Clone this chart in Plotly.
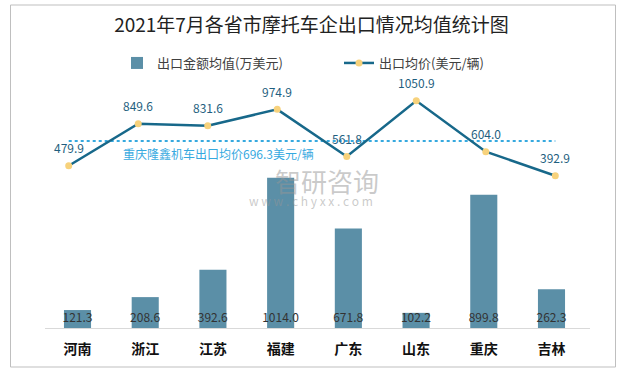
import plotly.graph_objects as go

categories = ["河南", "浙江", "江苏", "福建", "广东", "山东", "重庆", "吉林"]
export_amount = [121.3, 208.6, 392.6, 1014.0, 671.8, 102.2, 899.8, 262.3]
avg_price = [479.9, 849.6, 831.6, 974.9, 561.8, 1050.9, 604.0, 392.9]
loncin_avg = 696.3
loncin_label = "重庆隆鑫机车出口均价696.3美元/辆"

W, H = 623, 373
L, R, T, B = 45, 33, 80, 45
pw, ph = W - L - R, H - T - B

def px_x(px):
    return (px - L) / pw

def px_y(py):
    return (H - B - py) / ph

FONT = "Noto Sans CJK SC"

fig = go.Figure()

fig.add_trace(go.Bar(
    x=categories, y=export_amount, name="出口金额均值(万美元)",
    marker=dict(color="#5b8fa7", line=dict(width=0)),
    width=0.4,
    text=[f"{v:.1f}" for v in export_amount],
    textposition="inside", insidetextanchor="start", textangle=0,
    constraintext="none",
    insidetextfont=dict(color="#333333", size=12, family=FONT),
    cliponaxis=False,
    xaxis="x", yaxis="y",
))

fig.add_trace(go.Scatter(
    x=categories, y=[loncin_avg] * len(categories), mode="lines",
    line=dict(color="#36a9df", width=2, dash="dot"),
    showlegend=False, hoverinfo="skip",
    xaxis="x2", yaxis="y2",
))

fig.add_trace(go.Scatter(
    x=categories, y=avg_price, name="出口均价(美元/辆)",
    mode="lines+markers",
    line=dict(color="#17688a", width=2.5),
    marker=dict(color="#f7d27c", size=7),
    cliponaxis=False,
    xaxis="x2", yaxis="y2",
))

annotations = []
for c, v in zip(categories, avg_price):
    annotations.append(dict(
        x=c, y=v, xref="x2", yref="y2", text=f"{v:.1f}", showarrow=False,
        xanchor="center", yanchor="middle",
        yshift=18, font=dict(size=12, color="#1f5f80", family=FONT),
    ))

annotations.append(dict(
    x=px_x(218), y=loncin_avg, xref="paper", yref="y2", text=loncin_label,
    showarrow=False, xanchor="center", yanchor="middle",
    yshift=-12, font=dict(size=12, color="#36a9df", family=FONT),
))

# watermark
annotations.append(dict(
    x=px_x(327), y=px_y(180), xref="paper", yref="paper", text="智研咨询",
    showarrow=False, xanchor="center", yanchor="middle",
    font=dict(size=26, color="rgba(150,150,150,0.5)", family=FONT),
))
annotations.append(dict(
    x=px_x(311), y=px_y(200), xref="paper", yref="paper",
    text="w w w . c h y x x . c o m",
    showarrow=False, xanchor="center", yanchor="middle",
    font=dict(size=12, color="rgba(150,150,150,0.5)", family=FONT),
))

shapes = [dict(
    type="rect", xref="paper", yref="paper",
    x0=px_x(10.5), x1=px_x(615.5), y0=px_y(367), y1=px_y(5),
    line=dict(color="#bfbfbf", width=1), fillcolor="rgba(0,0,0,0)", layer="below",
)]

bar_px = 67.7
fig.update_layout(
    width=W, height=H,
    margin=dict(l=L, r=R, t=T, b=B, autoexpand=False),
    paper_bgcolor="white", plot_bgcolor="white",
    title=dict(text="2021年7月各省市摩托车企出口情况均值统计图",
               x=0.5, xanchor="center", y=1 - 25 / H, yanchor="middle", yref="container",
               font=dict(size=19, color="#222222", family=FONT)),
    font=dict(family=FONT, color="#404040"),
    barmode="group",
    showlegend=True,
    legend=dict(orientation="h", x=px_x(117), xanchor="left", y=px_y(63), yanchor="middle",
                font=dict(size=13, color="#404040", family=FONT),
                entrywidth=177, entrywidthmode="pixels",
                bgcolor="rgba(0,0,0,0)"),
    xaxis=dict(
        type="category", categoryorder="array", categoryarray=categories,
        range=[-(77.5 - L) / bar_px, 7 + (L + pw - 551.5) / bar_px],
        showline=True, linecolor="#d9d9d9", linewidth=1,
        showgrid=False, zeroline=False, ticks="",
        ticklabelstandoff=8,
        tickfont=dict(size=14, color="#111111", family=FONT, weight="bold"),
    ),
    xaxis2=dict(
        type="category", categoryorder="array", categoryarray=categories,
        overlaying="x", anchor="y2", visible=False,
        range=[-(68.7 - L) / 69.51, 7 + (L + pw - 555.3) / 69.51],
    ),
    yaxis=dict(range=[0, ph / 0.1481], visible=False, showgrid=False, zeroline=False),
    yaxis2=dict(range=[-(H - B - 220.48) / 0.11398, (220.48 - T) / 0.11398],
                overlaying="y", visible=False, showgrid=False, zeroline=False),
    annotations=annotations,
    shapes=shapes,
)

fig.write_html("out.html",
               config={"displayModeBar": False},
               post_script="document.body.style.margin='0';document.body.style.overflow='hidden';")
